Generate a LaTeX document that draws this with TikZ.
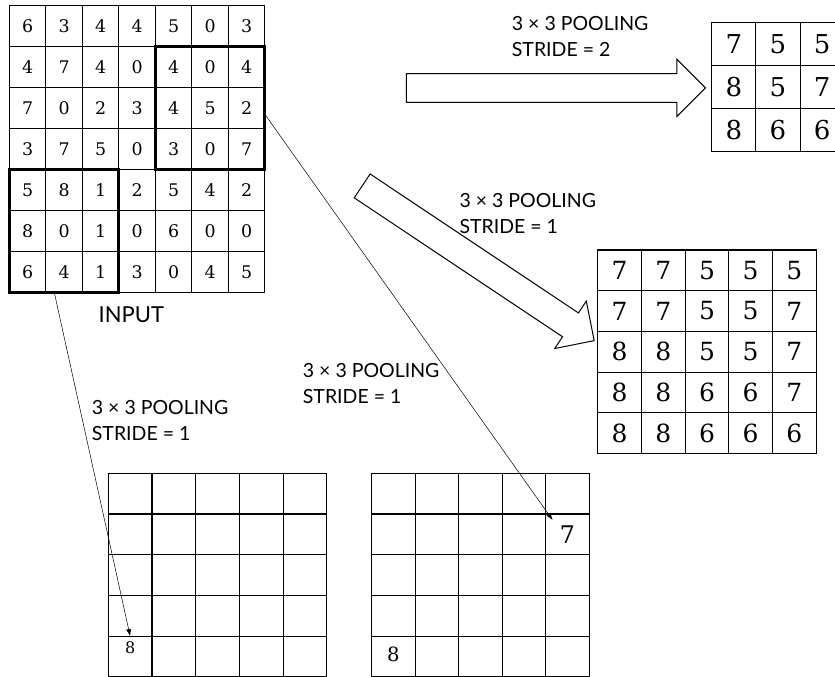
\documentclass[tikz,border=0pt]{standalone}
\usepackage{fontspec}
\setmainfont{DejaVu Serif}
\newfontfamily\lato{Lato}
\usepackage{tikz}
\usetikzlibrary{arrows,arrows.meta,shapes,positioning,calc}

\begin{document}
\begin{tikzpicture}[
    x=1pt, y=-1pt,
    cell/.style={inner sep=0pt, outer sep=0pt, minimum width=36.5pt, minimum height=41pt, font=\fontsize{17.4}{17.4}\selectfont},
    outcell/.style={cell, minimum width=43.7pt, minimum height=40.7pt, font=\fontsize{25}{25}\selectfont},
    gridline/.style={draw, line width=1.1pt},
    window/.style={draw, line width=3pt},
    poolnote/.style={font=\lato\fontsize{19.5}{26}\selectfont, align=left, inner sep=0pt, anchor=base west},
    bigarrow/.style={draw, line width=1pt, single arrow, single arrow head extend=14.15pt, minimum width=56pt, inner xsep=0pt, inner ysep=13.85pt, outer sep=0pt},
    link/.style={-{Latex[length=7pt,width=5pt]}, line width=0.5pt}
]
\useasboundingbox (0,0) rectangle (835,677);
\clip (0,0) rectangle (835,677);

% input map
\foreach \vals [count=\r] in {{6,3,4,4,5,0,3},{4,7,4,0,4,0,4},{7,0,2,3,4,5,2},{3,7,5,0,3,0,7},{5,8,1,2,5,4,2},{8,0,1,0,6,0,0},{6,4,1,3,0,4,5}}
  \foreach \v [count=\c] in \vals
    \node[cell] (in-\r-\c) at ({9.3+36.5*(\c-0.5)},{5.7+41*(\r-0.5)}) {\v};
\node[font=\lato\fontsize{22}{22}\selectfont, anchor=base] (input) at (131.4,322.7) {INPUT};

% stride 2 result
\foreach \vals [count=\r] in {{7,5,5},{8,5,7},{8,6,6}}
  \foreach \v [count=\c] in \vals
    \node[outcell, minimum width=44.2pt, minimum height=42.8pt, font=\fontsize{26}{26}\selectfont] (sa-\r-\c) at ({711.7+44.2*(\c-0.5)},{22.7+42.8*(\r-0.5)}) {\v};

% stride 1 result
\foreach \vals [count=\r] in {{7,7,5,5,5},{7,7,5,5,7},{8,8,5,5,7},{8,8,6,6,7},{8,8,6,6,6}}
  \foreach \v [count=\c] in \vals
    \node[outcell] (sb-\r-\c) at ({597.7+43.7*(\c-0.5)},{250+40.7*(\r-0.5)}) {\v};

% empty maps below
\foreach \r in {1,...,5}
  \foreach \c in {1,...,5} {
    \node[outcell] (ga-\r-\c) at ({108.3+43.7*(\c-0.5)},{473.3+40.7*(\r-0.5)}) {};
    \node[outcell] (gb-\r-\c) at ({371.7+43.5*(\c-0.5)},{473.3+40.7*(\r-0.5)}) {};
  }
\node[font=\fontsize{16}{16}\selectfont] (ga8) at ($(ga-5-1)+(0,-8.8)$) {8};
\node[font=\fontsize{19.6}{19.6}\selectfont] (gb8) at ($(gb-5-1)+(0,-2)$) {8};
\node[font=\fontsize{24.3}{24.3}\selectfont] (gb7) at (gb-2-5) {7};

% grid lines
\foreach \g/\n in {in/7, sa/3, sb/5, ga/5, gb/5} {
  \draw[gridline] (\g-1-1.north west) rectangle (\g-\n-\n.south east);
  \foreach \k in {2,...,\n} {
    \draw[gridline] (\g-1-\k.north west) -- (\g-\n-\k.south west);
    \draw[gridline] (\g-\k-1.north west) -- (\g-\k-\n.north east);
  }
}
\draw[window] (in-2-5.north west) rectangle (in-4-7.south east);
\draw[window] (in-5-1.north west) rectangle (in-7-3.south east);

% hollow arrows
\node[bigarrow, minimum height=299pt] (arrow2) at (548.8,87.9) {};
\node[bigarrow, minimum height=278.9pt, rotate=-33.7] (arrow1) at (472.2,259.3) {};

\node[poolnote] (pool2) at (511.7,56.7) {3 × 3 POOLING\\STRIDE = 2};
\node[poolnote] (pool1a) at (459.3,233.3) {3 × 3 POOLING\\STRIDE = 1};
\node[poolnote] (pool1b) at (91.7,440.7) {3 × 3 POOLING\\STRIDE = 1};
\node[poolnote] (pool1c) at (302.7,403.3) {3 × 3 POOLING\\STRIDE = 1};

% window to output cell
\coordinate (fromtr) at ($(in-3-7.east)+(0,6)$);
\coordinate (totr) at ($(gb-2-5.north west)+(7,6)$);
\coordinate (frombl) at ($(in-7-2.south)+(-9.7,0)$);
\draw[link] (fromtr) -- (totr);
\draw[link] (frombl) -- (ga-5-1.north);

\end{tikzpicture}
\end{document}
